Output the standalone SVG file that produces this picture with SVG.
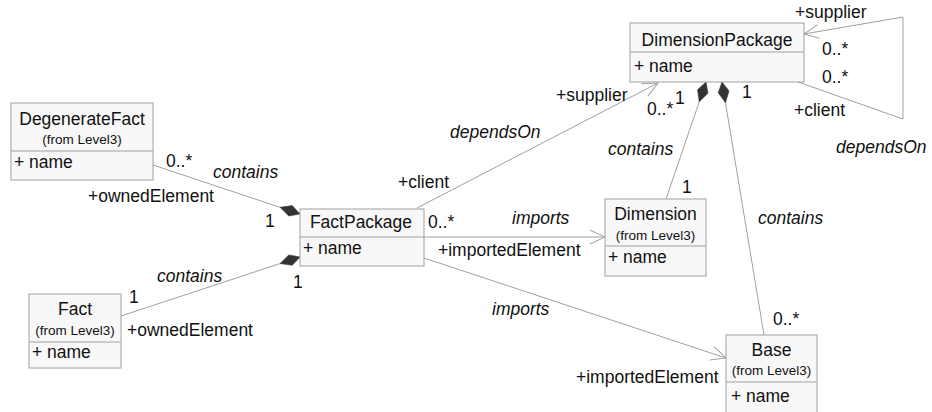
<svg xmlns="http://www.w3.org/2000/svg" width="932" height="412" viewBox="0 0 932 412">
<style>
.box{fill:#f8f8f8;stroke:#a0a0a0;stroke-width:1}
.div{stroke:#a0a0a0;stroke-width:1}
.t{font-family:"Liberation Sans",Arial,sans-serif;font-size:17.5px;fill:#111}
.c{text-anchor:middle}
.s{font-family:"Liberation Sans",Arial,sans-serif;font-size:13.5px;fill:#111;text-anchor:middle}
.i{font-style:italic}
.ln{fill:none;stroke:#a0a0a0;stroke-width:1}
.arr{marker-end:url(#open)}
.dia{marker-start:url(#diamond)}
</style>
<defs>
<marker id="open" markerUnits="userSpaceOnUse" markerWidth="20" markerHeight="20" refX="17" refY="10" orient="auto" overflow="visible">
<path d="M2,3 L17,10 L2,17" fill="none" stroke="#a0a0a0" stroke-width="1"/>
</marker>
<marker id="diamond" markerUnits="userSpaceOnUse" markerWidth="24" markerHeight="14" refX="0" refY="7" orient="auto" overflow="visible">
<path d="M0,7 L10,1.5 L21,7 L10,12.5 Z" fill="#333" stroke="#333" stroke-width="0.5"/>
</marker>
</defs>
<g id="connectors">
<polyline class="ln arr" points="798,82 903,119 903,17 804,34"/>
<line class="ln arr" x1="417" y1="208" x2="658" y2="83"/>
<line class="ln arr" x1="424" y1="237" x2="605" y2="237"/>
<line class="ln arr" x1="424" y1="258" x2="726" y2="358"/>
<line class="ln dia" x1="706" y1="82" x2="666" y2="199"/>
<line class="ln dia" x1="722" y1="82" x2="764" y2="335"/>
<line class="ln dia" x1="300" y1="214" x2="153" y2="165"/>
<line class="ln dia" x1="300" y1="257" x2="121" y2="316"/>
</g>
<g id="labels">
<text class="t" x="795" y="18">+supplier</text>
<text class="t" x="822" y="55">0..*</text>
<text class="t" x="822" y="83">0..*</text>
<text class="t" x="794" y="116">+client</text>
<text class="t i" x="836" y="153">dependsOn</text>
<text class="t" x="556" y="101">+supplier</text>
<text class="t" x="647" y="115">0..*</text>
<text class="t" x="675" y="104">1</text>
<text class="t" x="742" y="98">1</text>
<text class="t i" x="450" y="138">dependsOn</text>
<text class="t i" x="608" y="155">contains</text>
<text class="t" x="398" y="188">+client</text>
<text class="t" x="682" y="193">1</text>
<text class="t" x="166" y="167">0..*</text>
<text class="t i" x="213" y="178">contains</text>
<text class="t" x="88" y="202">+ownedElement</text>
<text class="t" x="265" y="227">1</text>
<text class="t" x="428" y="228">0..*</text>
<text class="t i" x="512" y="224">imports</text>
<text class="t" x="438" y="256">+importedElement</text>
<text class="t i" x="157" y="282">contains</text>
<text class="t" x="129" y="303">1</text>
<text class="t" x="127" y="336">+ownedElement</text>
<text class="t" x="293" y="288">1</text>
<text class="t i" x="492" y="315">imports</text>
<text class="t" x="576" y="383">+importedElement</text>
<text class="t" x="773" y="325">0..*</text>
<text class="t i" x="758" y="224">contains</text>
</g>
<g id="DimensionPackage">
<rect class="box" x="630" y="23" width="174" height="59"/>
<line class="div" x1="630" y1="52" x2="804" y2="52"/>
<text class="t c" x="717" y="46">DimensionPackage</text>
<text class="t" x="634" y="72">+ name</text>
</g>
<g id="DegenerateFact">
<rect class="box" x="11" y="103" width="142" height="77"/>
<line class="div" x1="11" y1="151" x2="153" y2="151"/>
<text class="t c" x="82" y="125">DegenerateFact</text>
<text class="s" x="82" y="144">(from Level3)</text>
<text class="t" x="14" y="168">+ name</text>
</g>
<g id="FactPackage">
<rect class="box" x="300" y="209" width="124" height="57"/>
<line class="div" x1="300" y1="237" x2="424" y2="237"/>
<text class="t c" x="361" y="228">FactPackage</text>
<text class="t" x="303" y="254">+ name</text>
</g>
<g id="Dimension">
<rect class="box" x="605" y="199" width="101" height="77"/>
<line class="div" x1="605" y1="246" x2="706" y2="246"/>
<text class="t c" x="655.5" y="220">Dimension</text>
<text class="s" x="655.5" y="240">(from Level3)</text>
<text class="t" x="608" y="263">+ name</text>
</g>
<g id="Fact">
<rect class="box" x="29" y="294" width="92" height="74"/>
<line class="div" x1="29" y1="342" x2="121" y2="342"/>
<text class="t c" x="75" y="315">Fact</text>
<text class="s" x="75" y="335">(from Level3)</text>
<text class="t" x="32" y="358">+ name</text>
</g>
<g id="Base">
<rect class="box" x="726" y="335" width="91" height="82"/>
<line class="div" x1="726" y1="382" x2="817" y2="382"/>
<text class="t c" x="771.5" y="356">Base</text>
<text class="s" x="771.5" y="375">(from Level3)</text>
<text class="t" x="731" y="402">+ name</text>
</g>
</svg>
